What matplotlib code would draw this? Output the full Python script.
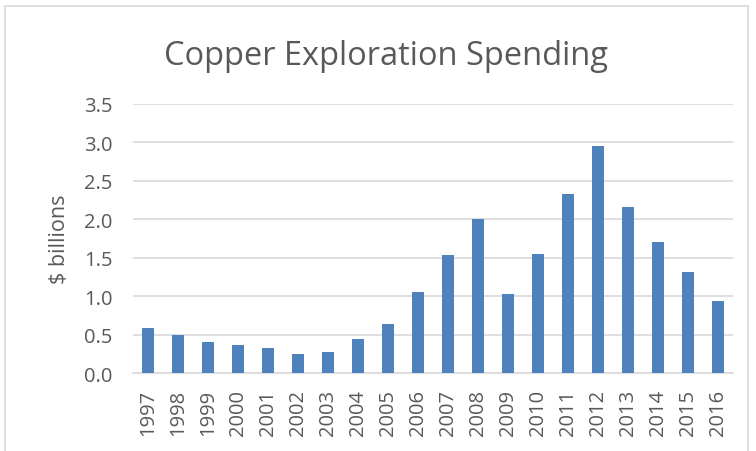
import matplotlib.pyplot as plt
from matplotlib.patches import Rectangle

years = [str(y) for y in range(1997, 2017)]
spending = [0.59, 0.50, 0.41, 0.37, 0.33, 0.25, 0.27, 0.44, 0.64, 1.06,
            1.53, 2.00, 1.03, 1.55, 2.33, 2.95, 2.16, 1.71, 1.32, 0.94]
y_ticks = [0.0, 0.5, 1.0, 1.5, 2.0, 2.5, 3.0, 3.5]

plt.rcParams['font.family'] = ['Open Sans', 'DejaVu Sans']
gris_texto = '#595959'
gris_linea = '#d9d9d9'

fig = plt.figure(figsize=(7.56, 4.52), dpi=100)
ax = fig.add_axes([0.176, 0.172, 0.794, 0.596])

x = list(range(len(years)))
ax.bar(x, spending, width=0.4, color='#4f81bd', zorder=3)

ax.set_xlim(-0.5, len(years) - 0.5)
ax.set_ylim(0, 3.5)
ax.set_yticks(y_ticks)
ax.set_yticklabels([f'{v:.1f}' for v in y_ticks])
ax.set_xticks(x)
ax.set_xticklabels(years, rotation=90)

ax.grid(axis='y', color=gris_linea, linewidth=1.2, zorder=0)
for lado in ['top', 'right', 'left']:
    ax.spines[lado].set_visible(False)
ax.spines['bottom'].set_color(gris_linea)
ax.spines['bottom'].set_linewidth(1.2)
ax.tick_params(length=0, labelsize=14.5, labelcolor=gris_texto)
ax.tick_params(axis='x', pad=11)
ax.tick_params(axis='y', pad=15)

ax.set_ylabel('$ billions', fontsize=15.5, color=gris_texto, labelpad=10)
fig.text(0.51, 0.876, 'Copper Exploration Spending', ha='center', va='center',
         fontsize=23.5, color=gris_texto)

fig.patches.append(Rectangle((0.007, -0.1), 0.983, 1.085, transform=fig.transFigure,
                             fill=False, edgecolor=gris_linea, linewidth=1.2))

fig.savefig('out.png', dpi=100)
